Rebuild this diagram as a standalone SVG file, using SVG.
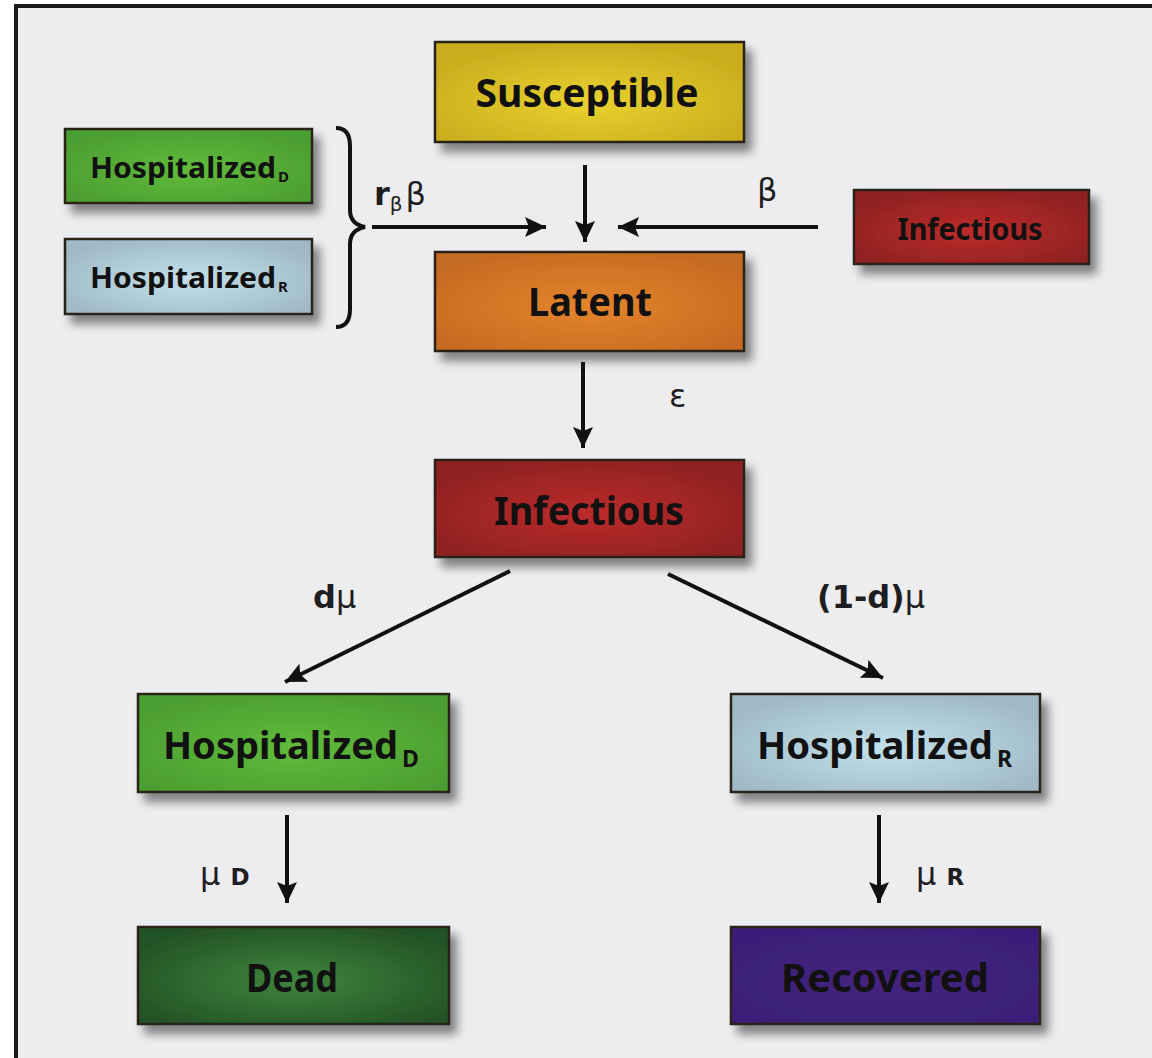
<svg xmlns="http://www.w3.org/2000/svg" width="1152" height="1058" viewBox="0 0 1152 1058">
<style>
.box{stroke:#2a2418;stroke-width:2.5;filter:url(#sh)}
.t{font-family:"Noto Sans","DejaVu Sans",sans-serif;font-weight:bold;fill:#111;text-anchor:middle}
.s{font-family:"Noto Sans","DejaVu Sans",sans-serif;font-weight:bold;fill:#111;text-anchor:start}
.lbl{font-family:"DejaVu Sans","Noto Sans",sans-serif;fill:#1e1e22;font-size:32px}
.c{stroke:#111;stroke-width:4;fill:none;marker-end:url(#ah)}
</style>
<defs>
<filter id="sh" x="-20%" y="-20%" width="150%" height="160%">
<feDropShadow dx="7" dy="9" stdDeviation="5" flood-color="#000" flood-opacity="0.45"/>
</filter>
<marker id="ah" markerUnits="userSpaceOnUse" markerWidth="24" markerHeight="22" refX="21" refY="10" orient="auto">
<path d="M0,0 L21,10 L0,20 L4,10 z" fill="#111"/>
</marker>
<radialGradient id="gY" cx="50%" cy="60%" r="60%"><stop offset="0" stop-color="#ead22f"/><stop offset="1" stop-color="#c9ad1e"/></radialGradient>
<radialGradient id="gO" cx="50%" cy="55%" r="60%"><stop offset="0" stop-color="#e4842c"/><stop offset="1" stop-color="#c56b22"/></radialGradient>
<radialGradient id="gRd" cx="50%" cy="55%" r="60%"><stop offset="0" stop-color="#bd2b2b"/><stop offset="1" stop-color="#8e2222"/></radialGradient>
<radialGradient id="gG" cx="50%" cy="55%" r="60%"><stop offset="0" stop-color="#60bb3a"/><stop offset="1" stop-color="#4c9e32"/></radialGradient>
<radialGradient id="gB" cx="50%" cy="55%" r="60%"><stop offset="0" stop-color="#c3e0ea"/><stop offset="1" stop-color="#9fbac6"/></radialGradient>
<radialGradient id="gDG" cx="50%" cy="55%" r="60%"><stop offset="0" stop-color="#3e853d"/><stop offset="1" stop-color="#245226"/></radialGradient>
<radialGradient id="gP" cx="50%" cy="55%" r="60%"><stop offset="0" stop-color="#45237f"/><stop offset="1" stop-color="#3b1f78"/></radialGradient>
</defs>
<rect x="0" y="0" width="1152" height="1058" fill="#ffffff"/>
<rect x="16" y="6" width="1200" height="1100" fill="#edecef" stroke="#1a1a1a" stroke-width="4"/>

<g id="susceptible"><rect class="box" x="435" y="42" width="309" height="100" fill="url(#gY)"/><text class="t" x="587" y="107" font-size="39" textLength="223" lengthAdjust="spacingAndGlyphs">Susceptible</text></g>
<g id="latent"><rect class="box" x="435" y="252" width="309" height="99" fill="url(#gO)"/><text class="t" x="590" y="316" font-size="39" textLength="124" lengthAdjust="spacingAndGlyphs">Latent</text></g>
<g id="infectious"><rect class="box" x="435" y="460" width="309" height="97" fill="url(#gRd)"/><text class="t" x="589" y="525" font-size="39" textLength="190" lengthAdjust="spacingAndGlyphs">Infectious</text></g>
<g id="infectious-src"><rect class="box" x="854" y="190" width="235" height="74" fill="url(#gRd)"/><text class="t" x="970" y="240" font-size="30" textLength="145" lengthAdjust="spacingAndGlyphs">Infectious</text></g>
<g id="hospD-src"><rect class="box" x="65" y="129" width="247" height="74" fill="url(#gG)"/><text class="s" x="90" y="178" font-size="28" textLength="186" lengthAdjust="spacingAndGlyphs">Hospitalized</text><text class="s" x="278" y="182" font-size="15">D</text></g>
<g id="hospR-src"><rect class="box" x="65" y="239" width="247" height="75" fill="url(#gB)"/><text class="s" x="90" y="288" font-size="28" textLength="186" lengthAdjust="spacingAndGlyphs">Hospitalized</text><text class="s" x="278" y="292" font-size="15">R</text></g>
<g id="hospD"><rect class="box" x="138" y="694" width="311" height="98" fill="url(#gG)"/><text class="s" x="163" y="759" font-size="38" textLength="235" lengthAdjust="spacingAndGlyphs">Hospitalized</text><text class="s" x="402" y="767" font-size="23">D</text></g>
<g id="hospR"><rect class="box" x="731" y="694" width="309" height="98" fill="url(#gB)"/><text class="s" x="757" y="759" font-size="38" textLength="236" lengthAdjust="spacingAndGlyphs">Hospitalized</text><text class="s" x="997" y="767" font-size="23">R</text></g>
<g id="dead"><rect class="box" x="138" y="927" width="311" height="97" fill="url(#gDG)"/><text class="t" x="292" y="992" font-size="39" textLength="92" lengthAdjust="spacingAndGlyphs">Dead</text></g>
<g id="recovered"><rect class="box" x="731" y="927" width="309" height="97" fill="url(#gP)"/><text class="t" x="885" y="992" font-size="39" textLength="208" lengthAdjust="spacingAndGlyphs">Recovered</text></g>

<g id="connectors">
<path d="M336,128 Q350,128 350,146 L350,210 Q350,224 365,227 Q350,230 350,244 L350,309 Q350,327 336,327" stroke="#111" stroke-width="4" fill="none"/>
<line class="c" x1="372" y1="227" x2="546" y2="227"/>
<line class="c" x1="585" y1="165" x2="585" y2="242"/>
<line class="c" x1="818" y1="227" x2="618" y2="227"/>
<line class="c" x1="583" y1="362" x2="583" y2="448"/>
<line class="c" x1="510" y1="571" x2="285" y2="682"/>
<line class="c" x1="668" y1="574" x2="883" y2="678"/>
<line class="c" x1="287" y1="815" x2="287" y2="903"/>
<line class="c" x1="879" y1="815" x2="879" y2="903"/>
<text class="lbl" x="374" y="205" font-weight="bold">r<tspan font-size="20" dy="6" font-weight="normal">β</tspan><tspan dy="-6" font-weight="normal" dx="3">β</tspan></text>
<text class="lbl" x="757" y="201">β</text>
<text class="lbl" x="669" y="407">ε</text>
<text class="lbl" x="313" y="608" font-weight="bold">d<tspan font-weight="normal">μ</tspan></text>
<text class="lbl" x="817" y="608" font-weight="bold">(1-d)<tspan font-weight="normal">μ</tspan></text>
<text class="lbl" x="200" y="885">μ <tspan font-size="23" font-weight="bold">D</tspan></text>
<text class="lbl" x="916" y="885">μ <tspan font-size="23" font-weight="bold">R</tspan></text>
</g>
</svg>
